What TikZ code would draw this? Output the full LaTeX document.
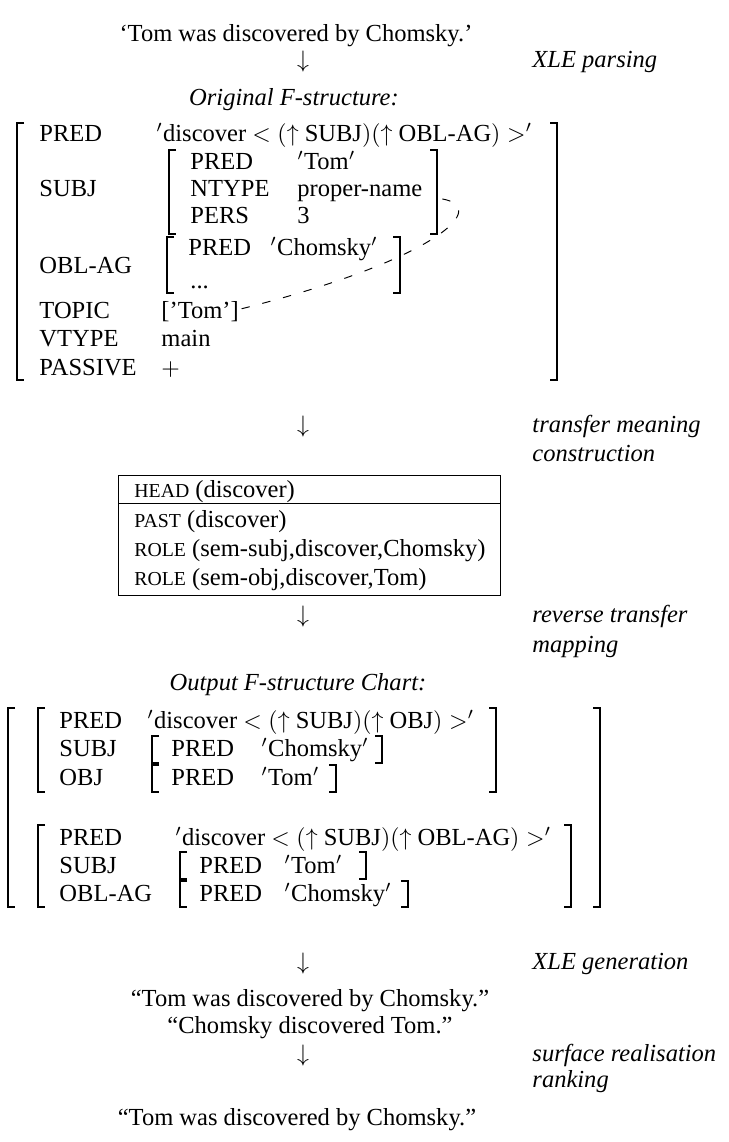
\documentclass[tikz,border=0pt]{standalone}
\usepackage{fontspec}
\setmainfont{Liberation Serif}
\newcommand{\avmL}[3]{\draw [brak] (#1+7,#2) -- (#1,#2) -- (#1,#3) -- (#1+7,#3);}
\newcommand{\avmR}[3]{\draw [brak] (#1-7,#2) -- (#1,#2) -- (#1,#3) -- (#1-7,#3);}
\newcommand{\smc}[1]{{\fontsize{8.3}{10}\selectfont #1}}

\begin{document}
\fontsize{10.3}{12.4}\selectfont
\begin{tikzpicture}[x=0.42pt,y=0.42pt,
  brak/.style={line width=0.5pt},
  txt/.style={anchor=base west},
  mid/.style={anchor=base},
  note/.style={anchor=base west,font=\itshape}]
\tikzstyle{every node}+=[inner sep=0pt]
\useasboundingbox (0,0) rectangle (728,-1142);
% parsing
\node [mid] (src) at (296,-41) {‘Tom was discovered by Chomsky.’};
\node [mid] (arrA) at (303,-67) {$\downarrow$};
\node [note] (parse) at (532,-67) {XLE parsing};
\node [mid,font=\itshape] (origT) at (294,-105) {Original F-structure:};
% original f-structure
\avmL{17}{-123}{-380}
\avmR{557}{-123}{-380}
\node [txt] (aPred) at (39,-141) {PRED};
\node [txt] (aPredV) at (156,-141) {$'$discover $<(\uparrow$ SUBJ$)(\uparrow$ OBL-AG$)>'$};
\node [txt] (aSubj) at (39,-196) {SUBJ};
\avmL{169}{-150}{-234}
\avmR{437}{-150}{-234}
\node [txt] (sPred) at (190,-169) {PRED};
\node [txt] (sPredV) at (297,-169) {$'$Tom$'$};
\node [txt] (sNtype) at (190,-196) {NTYPE};
\node [txt] (sNtypeV) at (297,-196) {proper-name};
\node [txt] (sPers) at (190,-223) {PERS};
\node [txt] (sPersV) at (297,-223) {3};
\node [txt] (aObl) at (39,-273) {OBL-AG};
\avmL{167}{-237}{-293}
\avmR{400}{-237}{-293}
\node [txt] (oPred) at (188,-255) {PRED};
\node [txt] (oPredV) at (270,-255) {$'$Chomsky$'$};
\node [txt] (oDots) at (190,-288) {...};
\node [txt] (aTopic) at (39,-318) {TOPIC};
\node [txt] (aTopicV) at (161,-318) {[’Tom’]};
\node [txt] (aVtype) at (39,-346) {VTYPE};
\node [txt] (aVtypeV) at (161,-346) {main};
\node [txt] (aPass) at (39,-375) {PASSIVE};
\node [txt] (aPassV) at (161,-375) {$+$};
\draw [dash pattern=on 3.5pt off 5.5pt] ([xshift=1pt,yshift=1pt]aTopicV.east)
  .. controls +(203,51) and +(70,-3) .. ([xshift=3pt,yshift=-2pt]sNtypeV.east);
% meaning construction
\node [mid] (arrB) at (303,-432) {$\downarrow$};
\node [note] (trans) at (532,-432) {transfer meaning};
\node [note] (trans2) at (532,-461) {construction};
\draw (118,-475) rectangle (500,-595);
\draw (118,-503) -- (500,-503);
\node [txt] (mHead) at (134,-497) {\smc{HEAD} (discover)};
\node [txt] (mPast) at (134,-527) {\smc{PAST} (discover)};
\node [txt] (mRoleA) at (134,-556) {\smc{ROLE} (sem-subj,discover,Chomsky)};
\node [txt] (mRoleB) at (134,-585) {\smc{ROLE} (sem-obj,discover,Tom)};
\node [mid] (arrC) at (303,-622) {$\downarrow$};
\node [note] (rev) at (532,-622) {reverse transfer};
\node [note] (rev2) at (532,-652) {mapping};
\node [mid,font=\itshape] (outT) at (298,-690) {Output F-structure Chart:};
% output chart
\avmL{8}{-708}{-907}
\avmR{600}{-708}{-907}
\avmL{38}{-708}{-792}
\avmR{496}{-708}{-792}
\node [txt] (bPred) at (59,-728) {PRED};
\node [txt] (bPredV) at (147,-728) {$'$discover $<(\uparrow$ SUBJ$)(\uparrow$ OBJ$)>'$};
\node [txt] (bSubj) at (59,-756) {SUBJ};
\avmL{152}{-736}{-763}
\avmR{382}{-736}{-763}
\node [txt] (bsPred) at (171,-756) {PRED};
\node [txt] (bsPredV) at (261,-756) {$'$Chomsky$'$};
\node [txt] (bObj) at (59,-785) {OBJ};
\avmL{152}{-765}{-792}
\avmR{336}{-765}{-792}
\node [txt] (boPred) at (171,-785) {PRED};
\node [txt] (boPredV) at (261,-785) {$'$Tom$'$};
\avmL{38}{-825}{-907}
\avmR{571}{-825}{-907}
\node [txt] (cPred) at (59,-845) {PRED};
\node [txt] (cPredV) at (175,-845) {$'$discover $<(\uparrow$ SUBJ$)(\uparrow$ OBL-AG$)>'$};
\node [txt] (cSubj) at (59,-873) {SUBJ};
\avmL{180}{-852}{-879}
\avmR{366}{-852}{-879}
\node [txt] (csPred) at (199,-873) {PRED};
\node [txt] (csPredV) at (284,-873) {$'$Tom$'$};
\node [txt] (cObl) at (59,-901) {OBL-AG};
\avmL{180}{-881}{-907}
\avmR{408}{-881}{-907}
\node [txt] (coPred) at (199,-901) {PRED};
\node [txt] (coPredV) at (284,-901) {$'$Chomsky$'$};
% generation and ranking
\node [mid] (arrD) at (303,-969) {$\downarrow$};
\node [note] (gen) at (532,-969) {XLE generation};
\node [mid] (genA) at (310,-1006) {“Tom was discovered by Chomsky.”};
\node [mid] (genB) at (310,-1033) {“Chomsky discovered Tom.”};
\node [mid] (arrE) at (303,-1061) {$\downarrow$};
\node [note] (rank) at (532,-1061) {surface realisation};
\node [note] (rank2) at (532,-1087) {ranking};
\node [mid] (best) at (297,-1125) {“Tom was discovered by Chomsky.”};
\end{tikzpicture}
\end{document}
